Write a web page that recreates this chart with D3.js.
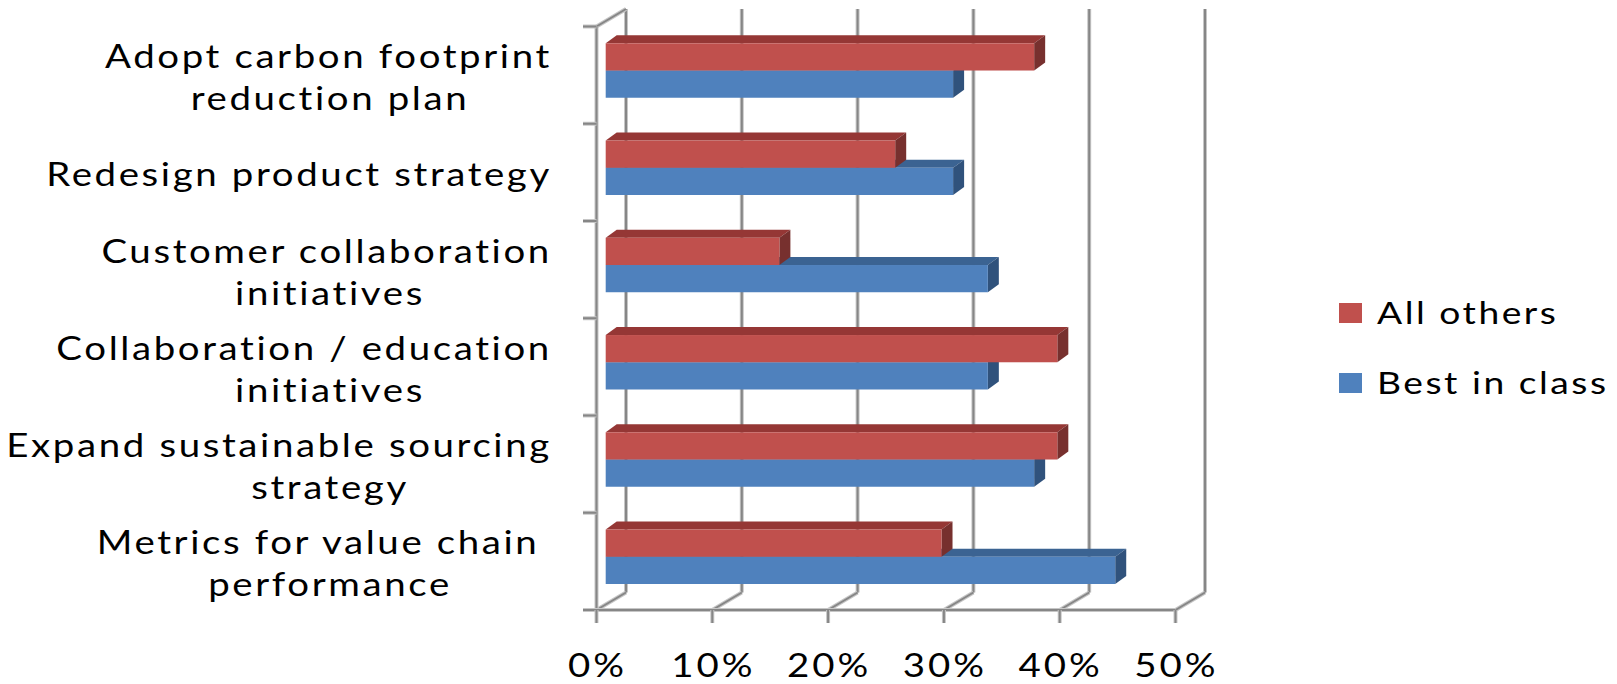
<!DOCTYPE html>
<html><head><meta charset="utf-8">
<script src="https://cdn.jsdelivr.net/npm/d3@7"></script>
<style>
html,body{margin:0;padding:0;background:#fff;}
svg{display:block;}
text{font-family:Lato,"Open Sans",sans-serif;fill:#000;white-space:pre;}
</style></head><body>
<svg id="chart" width="1617" height="684"></svg>
<script>
// ---- data ----
const categories = ["Adopt carbon footprint\nreduction plan", "Redesign product strategy", "Customer collaboration\ninitiatives", "Collaboration / education\ninitiatives", "Expand sustainable sourcing\nstrategy", "Metrics for value chain \nperformance"];
const seriesNames = ["All others", "Best in class"];
const allOthers = [0.37, 0.25, 0.15, 0.39, 0.39, 0.29];
const bestInClass = [0.30, 0.30, 0.33, 0.33, 0.37, 0.44];
const tickValues = [0, 0.1, 0.2, 0.3, 0.4, 0.5];
const tickLabels = ["0%", "10%", "20%", "30%", "40%", "50%"];

// ---- layout / style ----
const front = {left: 596.5, right: 1175.5, top: 26.5, bottom: 610};
const wall = {dx: 29.5, dy: -17.5};
const barOff = {dx: 9.2, dy: -5};
const barDepth = {dx: 11, dy: -8};
const colors = {
  "All others": {front: "#C0504D", top: "#953735", side: "#77302E"},
  "Best in class": {front: "#4F81BD", top: "#3B6392", side: "#30527C"}
};
const textK = 1.2;

const svg = d3.select("#chart");
const x = d3.scaleLinear().domain([0, 0.5]).range([front.left, front.right]);
const y = d3.scaleBand().domain(categories).range([front.top, front.bottom]).padding(0);
const bw = y.bandwidth();
const ys = d3.scaleBand().domain(seriesNames).range([0.224 * bw, 0.784 * bw]).padding(0);

function gline(g, x1, y1, x2, y2) {
  g.append("line").attr("x1", x1).attr("y1", y1).attr("x2", x2).attr("y2", y2)
    .attr("stroke", "#c6c6c6").attr("stroke-width", 4);
  g.append("line").attr("x1", x1).attr("y1", y1).attr("x2", x2).attr("y2", y2)
    .attr("stroke", "#868686").attr("stroke-width", 2);
}

const grid = svg.append("g");
tickValues.forEach(t => gline(grid, x(t) + wall.dx, front.top + wall.dy, x(t) + wall.dx, front.bottom + wall.dy));
tickValues.forEach(t => gline(grid, x(t), front.bottom, x(t) + wall.dx, front.bottom + wall.dy));
gline(grid, front.left, front.top, front.left + wall.dx, front.top + wall.dy);
gline(grid, front.left, front.top, front.left, front.bottom);
const bounds = categories.map(c => y(c)).concat([front.bottom]);
bounds.forEach(b => gline(grid, front.left - 13.5, b, front.left, b));
gline(grid, front.left - 13.5, front.bottom, front.right, front.bottom);
tickValues.forEach(t => gline(grid, x(t), front.bottom, x(t), front.bottom + 13));

// ---- bars ----
const rows = [];
categories.forEach((c, i) => {
  rows.push({cat: c, s: "Best in class", v: bestInClass[i], idx: i});
  rows.push({cat: c, s: "All others", v: allOthers[i], idx: i});
});
rows.sort((a, b) => (b.idx - a.idx) || (a.s === "Best in class" ? -1 : 1));
const bars = svg.append("g");
rows.forEach(d => {
  const x0 = x(0) + barOff.dx, x1 = x(d.v) + barOff.dx;
  const y0 = y(d.cat) + ys(d.s) + barOff.dy, y1 = y0 + ys.bandwidth();
  const col = colors[d.s];
  const g = bars.append("g");
  g.append("polygon").attr("points", [[x0, y0], [x1, y0], [x1 + barDepth.dx, y0 + barDepth.dy], [x0 + barDepth.dx, y0 + barDepth.dy]].join(" "))
    .attr("fill", col.top);
  g.append("polygon").attr("points", [[x1, y0], [x1 + barDepth.dx, y0 + barDepth.dy], [x1 + barDepth.dx, y1 + barDepth.dy], [x1, y1]].join(" "))
    .attr("fill", col.side);
  g.append("rect").attr("x", x0).attr("y", y0).attr("width", x1 - x0).attr("height", y1 - y0)
    .attr("fill", col.front);
});

// ---- text helper ----
function stext(g, str, px, py, anchor, size, ls) {
  return g.append("text").attr("transform", `translate(${px},${py}) scale(${textK},1)`)
    .attr("text-anchor", anchor).attr("font-size", size).attr("letter-spacing", ls).text(str);
}

// x axis labels
const xl = svg.append("g");
tickValues.forEach((t, i) => stext(xl, tickLabels[i], x(t) + 1, 677, "middle", 32, 2.5));

// category labels
const cl = svg.append("g");
const labelRight = 552, labelCenter = 330, lineH = 42, catSize = 32, catLS = 2.2;
categories.forEach(c => {
  const lines = c.split("\n");
  const cy = y(c) + bw / 2 + 14;
  lines.forEach((l, i) => {
    const t = cl.append("text").attr("font-size", catSize).attr("letter-spacing", catLS).text(l);
    const w = t.node().getComputedTextLength() * textK;
    t.remove();
    const cx = Math.min(labelCenter, labelRight - w / 2);
    stext(cl, l, cx, cy + (i - (lines.length - 1) / 2) * lineH, "middle", catSize, catLS);
  });
});

// legend
const lg = svg.append("g");
const legendItems = [{name: "All others", y: 303}, {name: "Best in class", y: 373}];
legendItems.forEach(it => {
  lg.append("rect").attr("x", 1339).attr("y", it.y).attr("width", 23).attr("height", 20).attr("fill", colors[it.name].front);
  stext(lg, it.name, 1377, it.y + 21, "start", 31, 2.1);
});
</script>
</body></html>
